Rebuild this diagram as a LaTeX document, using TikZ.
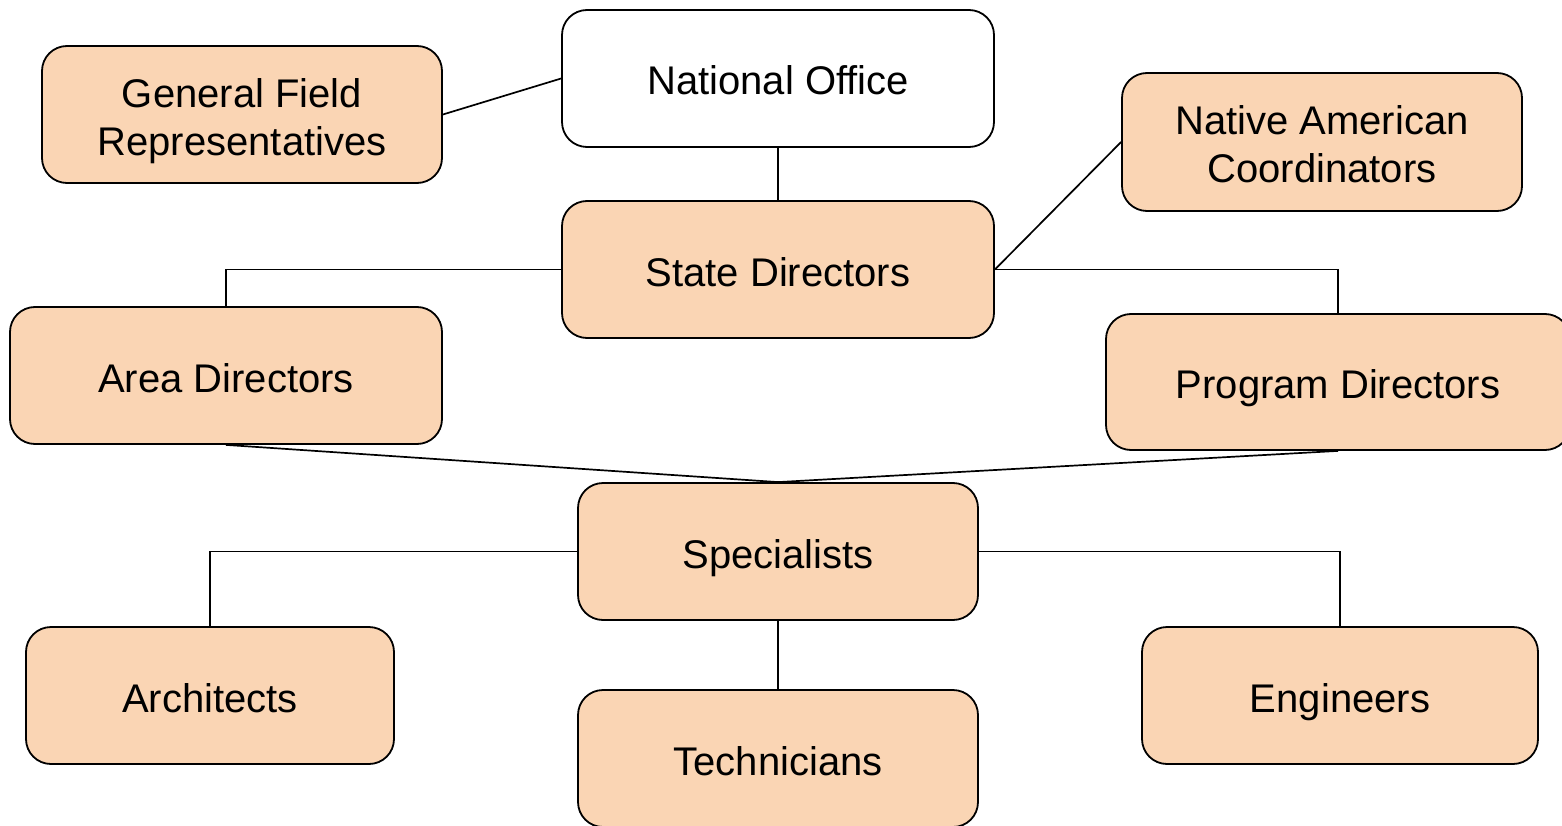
\documentclass[tikz,border=0pt]{standalone}
\usepackage{fontspec}
\setmainfont{Liberation Sans}
\definecolor{peach}{RGB}{250,213,180}
\newcommand{\twolines}[2]{\raisebox{0pt}[81.2pt][0pt]{\begin{tabular}[b]{@{}c@{}}#1\\#2\end{tabular}}}
\tikzset{
  box/.style={draw=black, line width=1.8pt, rounded corners=25pt, fill=peach,
    align=center, inner sep=0pt, font=\fontsize{40}{48}\selectfont},
  onebox/.style={box, text height=33pt, text depth=0pt},
  wbox/.style={onebox, fill=white},
  conn/.style={draw=black, line width=1.7pt}
}
\begin{document}
\begin{tikzpicture}[x=1pt,y=-1pt]
\useasboundingbox (0,0) rectangle (1562,826);
\clip (0,0) rectangle (1562,826);
\fill[white] (0,0) rectangle (1562,826);
\node[wbox, minimum width=432pt, minimum height=137pt] (nat) at (778,78.5) {National Office};
\node[box, minimum width=400pt, minimum height=137pt] (gfr) at (242,114.5) {\twolines{General Field}{Representatives}};
\node[box, minimum width=400pt, minimum height=138pt] (nac) at (1322,142) {\twolines{Native American}{Coordinators}};
\node[onebox, minimum width=432pt, minimum height=137pt] (sd) at (778,269.5) {State Directors};
\node[onebox, minimum width=432pt, minimum height=137pt] (ad) at (226,375.5) {Area Directors};
\node[onebox, minimum width=464pt, minimum height=136pt] (pd) at (1338,382) {Program Directors};
\node[onebox, minimum width=400pt, minimum height=137pt] (sp) at (778,551.5) {Specialists};
\node[onebox, minimum width=368pt, minimum height=137pt] (ar) at (210,695.5) {Architects};
\node[onebox, minimum width=400pt, minimum height=137pt] (te) at (778,758.5) {Technicians};
\node[onebox, minimum width=396pt, minimum height=137pt] (en) at (1340,695.5) {Engineers};
\draw[conn] (gfr.east) -- (nat.west);
\draw[conn] (nat.south) -- (sd.north);
\draw[conn] (sd.east) -- (nac.west);
\draw[conn] (sd.west) -| (ad.north);
\draw[conn] (sd.east) -| (pd.north);
\draw[conn] (ad.south) -- (sp.north);
\draw[conn] (pd.south) -- (sp.north);
\draw[conn] (sp.west) -| (ar.north);
\draw[conn] (sp.east) -| (en.north);
\draw[conn] (sp.south) -- (te.north);
\end{tikzpicture}
\end{document}
